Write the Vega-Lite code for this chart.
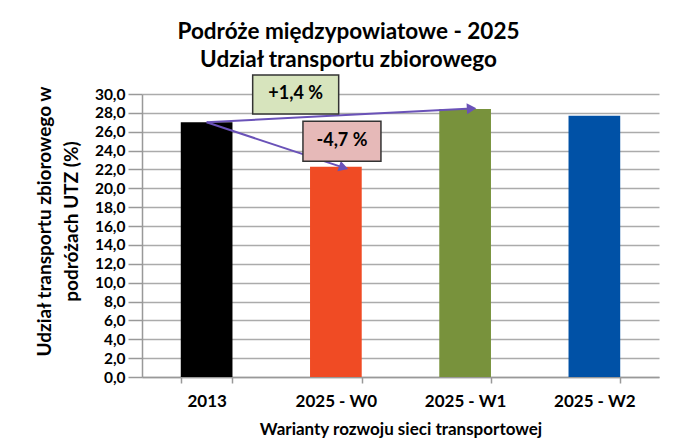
{
  "$schema": "https://vega.github.io/schema/vega-lite/v6.json",
  "autosize": "none",
  "width": 517,
  "height": 283,
  "padding": {"left": 142, "top": 94, "right": 20, "bottom": 66},
  "background": "white",
  "config": {
    "font": "Lato",
    "view": {"stroke": null},
    "axis": {"labelFont": "Lato", "titleFont": "Lato", "labelColor": "#000", "titleColor": "#000"}
  },
  "title": {
    "text": ["Podróże międzypowiatowe  - 2025", "Udział transportu  zbiorowego"],
    "font": "Lato",
    "fontSize": 22.5,
    "fontWeight": "bold",
    "color": "#000",
    "lineHeight": 28,
    "anchor": "middle",
    "frame": "group",
    "dx": -52,
    "offset": 0
  },
  "datasets": {
    "bars": [
      {"wariant": "2013", "udzial": 27.0},
      {"wariant": "2025 - W0", "udzial": 22.3},
      {"wariant": "2025 - W1", "udzial": 28.4},
      {"wariant": "2025 - W2", "udzial": 27.7}
    ],
    "arrows": [
      {"zmiana": "+1,4 %", "x": 0.5, "y": 27.0, "x2": 2.55, "y2": 28.47},
      {"zmiana": "-4,7 %", "x": 0.5, "y": 27.0, "x2": 1.56, "y2": 22.2}
    ],
    "labels": [
      {"zmiana": "+1,4 %", "x": 1.189, "y": 29.95},
      {"zmiana": "-4,7 %", "x": 1.547, "y": 25.0}
    ]
  },
  "layer": [
    {
      "data": {"name": "bars"},
      "mark": {"type": "bar"},
      "encoding": {
        "x": {
          "field": "wariant",
          "type": "nominal",
          "sort": null,
          "scale": {"paddingInner": 0.6, "paddingOuter": 0.3},
          "axis": {
            "title": "Warianty rozwoju sieci transportowej",
            "labelAngle": 0,
            "labelFontSize": 17,
            "labelFontWeight": "bold",
            "labelPadding": 10,
            "titleFontSize": 17,
            "titleFontWeight": "bold",
            "titleBaseline": "top",
            "titleY": 44,
            "tickBand": "extent",
            "tickSize": 6,
            "tickColor": "#999",
            "domainColor": "#999",
            "domainWidth": 1.5,
            "tickWidth": 1.5
          }
        },
        "y": {
          "field": "udzial",
          "type": "quantitative",
          "scale": {"domain": [0, 30], "nice": false},
          "axis": {
            "title": ["Udział transportu zbiorowego w", "podróżach UTZ  (%)"],
            "values": [0, 2, 4, 6, 8, 10, 12, 14, 16, 18, 20, 22, 24, 26, 28, 30],
            "tickCount": 40,
            "labelExpr": "replace(format(datum.value, '.1f'), '.', ',')",
            "labelOverlap": false,
            "labelBound": false,
            "labelFlush": false,
            "labelFontSize": 15.5,
            "labelFontWeight": "bold",
            "labelPadding": 3,
            "tickSize": 14,
            "tickColor": "#999",
            "tickWidth": 1.5,
            "domainColor": "#999",
            "domainWidth": 1.5,
            "gridColor": "#ABABAB",
            "gridWidth": 1.5,
            "titleFontSize": 19,
            "titleFontWeight": "bold",
            "titleLineHeight": 27,
            "titleBaseline": "middle",
            "titleX": -98,
            "titleY": 127,
            "titleAngle": -90
          }
        },
        "color": {
          "field": "wariant",
          "type": "nominal",
          "sort": null,
          "scale": {"range": ["#000000", "#F04B24", "#78923C", "#0051A6"]},
          "legend": null
        }
      }
    },
    {
      "data": {"name": "arrows"},
      "mark": {"type": "rule", "color": "#6A52B8", "strokeWidth": 2},
      "encoding": {
        "x": {"field": "x", "type": "quantitative", "scale": {"domain": [0, 4], "nice": false, "zero": false}, "axis": null},
        "y": {"field": "y", "type": "quantitative"},
        "x2": {"field": "x2"},
        "y2": {"field": "y2"}
      }
    },
    {
      "data": {"name": "arrows"},
      "transform": [{"filter": "datum.zmiana == '+1,4 %'"}],
      "mark": {"type": "point", "shape": "triangle-right", "filled": true, "color": "#6A52B8", "opacity": 1, "size": 120, "angle": -3},
      "encoding": {
        "x": {"field": "x2", "type": "quantitative", "scale": {"domain": [0, 4], "nice": false, "zero": false}, "axis": null},
        "y": {"field": "y2", "type": "quantitative"}
      }
    },
    {
      "data": {"name": "arrows"},
      "transform": [{"filter": "datum.zmiana == '-4,7 %'"}],
      "mark": {"type": "point", "shape": "triangle-right", "filled": true, "color": "#6A52B8", "opacity": 1, "size": 120, "angle": 18},
      "encoding": {
        "x": {"field": "x2", "type": "quantitative", "scale": {"domain": [0, 4], "nice": false, "zero": false}, "axis": null},
        "y": {"field": "y2", "type": "quantitative"}
      }
    },
    {
      "data": {"name": "labels"},
      "transform": [{"filter": "datum.zmiana == '+1,4 %'"}],
      "mark": {"type": "point", "shape": "M-1,-0.453H1V0.453H-1Z", "size": 7396, "filled": true, "fill": "#D7E4BD", "stroke": "#333", "strokeWidth": 1.5, "opacity": 1},
      "encoding": {
        "x": {"field": "x", "type": "quantitative", "scale": {"domain": [0, 4], "nice": false, "zero": false}, "axis": null},
        "y": {"field": "y", "type": "quantitative"}
      }
    },
    {
      "data": {"name": "labels"},
      "transform": [{"filter": "datum.zmiana == '-4,7 %'"}],
      "mark": {"type": "point", "shape": "M-1,-0.513H1V0.513H-1Z", "size": 6084, "filled": true, "fill": "#E6B9B8", "stroke": "#333", "strokeWidth": 1.5, "opacity": 1},
      "encoding": {
        "x": {"field": "x", "type": "quantitative", "scale": {"domain": [0, 4], "nice": false, "zero": false}, "axis": null},
        "y": {"field": "y", "type": "quantitative"}
      }
    },
    {
      "data": {"name": "labels"},
      "mark": {"type": "text", "font": "Lato", "fontSize": 18, "fontWeight": "bold", "color": "#000", "baseline": "middle", "align": "center"},
      "encoding": {
        "x": {"field": "x", "type": "quantitative", "scale": {"domain": [0, 4], "nice": false, "zero": false}, "axis": null},
        "y": {"field": "y", "type": "quantitative"},
        "text": {"field": "zmiana"}
      }
    }
  ],
  "resolve": {"scale": {"x": "independent"}}
}
